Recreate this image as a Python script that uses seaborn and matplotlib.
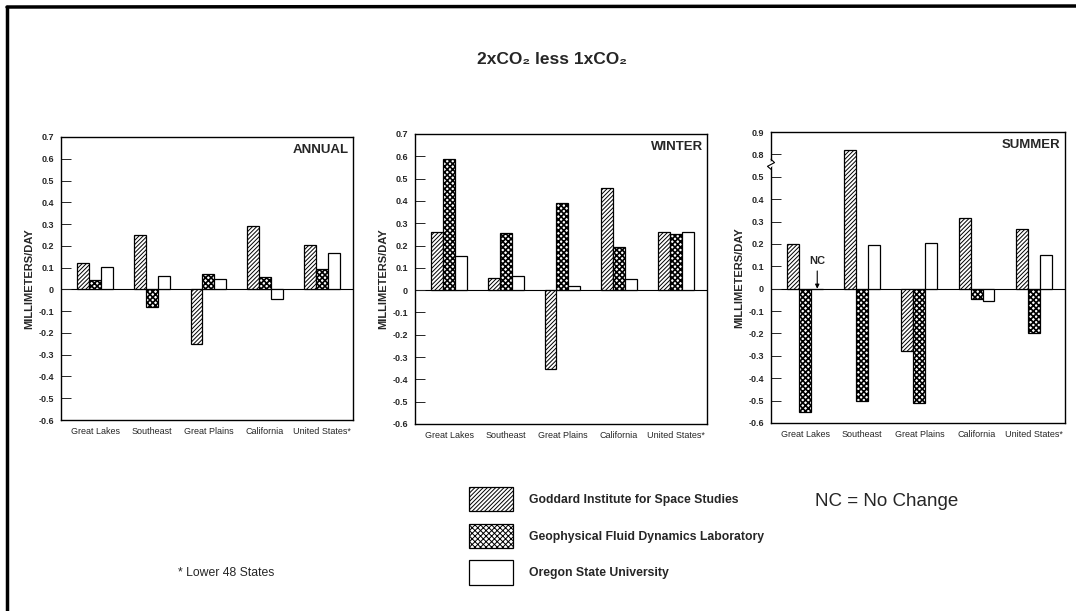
import numpy as np
import pandas as pd
import matplotlib
matplotlib.use("Agg")
from matplotlib import pyplot as plt
from matplotlib.lines import Line2D
import matplotlib.transforms as mtransforms
import seaborn as sns

regions = ['Great Lakes', 'Southeast', 'Great Plains', 'California', 'United States*']
models = ['Goddard Institute for Space Studies',
          'Geophysical Fluid Dynamics Laboratory',
          'Oregon State University']

# mm/day, 2xCO2 less 1xCO2
annual_giss = [0.12, 0.25, -0.25, 0.29, 0.205]
annual_gfdl = [0.045, -0.08, 0.07, 0.055, 0.095]
annual_osu = [0.105, 0.06, 0.05, -0.045, 0.165]

winter_giss = [0.26, 0.055, -0.355, 0.46, 0.26]
winter_gfdl = [0.59, 0.255, 0.39, 0.195, 0.25]
winter_osu = [0.155, 0.065, 0.02, 0.05, 0.26]

summer_giss = [0.20, 0.82, -0.28, 0.315, 0.265]
summer_gfdl = [-0.55, -0.50, -0.51, -0.045, -0.20]
summer_osu = [0.0, 0.195, 0.205, -0.055, 0.15]

sns.set_style('white')
plt.rcParams['font.family'] = ['Liberation Sans', 'DejaVu Sans']
plt.rcParams['hatch.linewidth'] = 0.7


def to_long(giss, gfdl, osu):
    return pd.DataFrame({
        'region': regions * 3,
        'model': [models[0]] * 5 + [models[1]] * 5 + [models[2]] * 5,
        'value': giss + gfdl + osu,
    })


# broken axis for summer panel (0.5 .. 0.8 squeezed)
def brk_fwd(y):
    y = np.asarray(y, dtype=float)
    return np.where(y <= 0.5, y, np.where(y < 0.8, 0.5 + (y - 0.5) / 3, y - 0.2))


def brk_inv(t):
    t = np.asarray(t, dtype=float)
    return np.where(t <= 0.5, t, np.where(t < 0.6, 0.5 + (t - 0.5) * 3, t + 0.2))


fig = plt.figure(figsize=(10.76, 6.11), dpi=100)

W = 1076
H = 611
boxes = [(61, 137, 353, 420), (415, 134, 707, 424), (771, 132, 1065, 423)]
panels = [('ANNUAL', annual_giss, annual_gfdl, annual_osu),
          ('WINTER', winter_giss, winter_gfdl, winter_osu),
          ('SUMMER', summer_giss, summer_gfdl, summer_osu)]
hatches = ['////////', 'xxxxxx', '']

axes = []
for (x0, y0, x1, y1), (name, g, f, o) in zip(boxes, panels):
    ax = fig.add_axes([x0 / W, 1 - y1 / H, (x1 - x0) / W, (y1 - y0) / H])
    df = to_long(g, f, o)
    sns.barplot(data=df, x='region', y='value', hue='model', hue_order=models,
                palette=['white'] * 3, edgecolor='black', linewidth=0.9,
                width=0.63, saturation=1, ax=ax, legend=False)
    for cont, h in zip(ax.containers, hatches):
        for p in cont.patches:
            p.set_hatch(h)
            p.set_facecolor('white')
            if h.startswith('x') and hasattr(p, 'set_hatch_linewidth'):
                p.set_hatch_linewidth(1.2)
    ax.axhline(0, color='black', lw=0.8, zorder=0.5)
    ax.set_xlim(-0.6, 4.55)
    if name == 'SUMMER':
        ax.set_yscale('function', functions=(brk_fwd, brk_inv))
        ax.set_ylim(-0.6, 0.9)
        ticks = [-0.6, -0.5, -0.4, -0.3, -0.2, -0.1, 0, 0.1, 0.2, 0.3, 0.4, 0.5, 0.8, 0.9]
    else:
        ax.set_ylim(-0.6, 0.7)
        ticks = [-0.6, -0.5, -0.4, -0.3, -0.2, -0.1, 0, 0.1, 0.2, 0.3, 0.4, 0.5, 0.6, 0.7]
    ax.set_yticks(ticks)
    ax.set_yticklabels(['0' if t == 0 else f'{t:.1f}' for t in ticks],
                       fontsize=6.5, fontweight='bold')
    ax.yaxis.set_minor_locator(matplotlib.ticker.NullLocator())
    ax.tick_params(axis='y', direction='in', length=7, width=0.7, pad=5, left=True)
    ax.tick_params(axis='x', length=0, pad=5, labelsize=6.5)
    ax.set_xlabel('')
    ax.set_ylabel('MILLIMETERS/DAY', fontsize=8, fontweight='bold', labelpad=3)
    for s in ax.spines.values():
        s.set_color('black')
        s.set_linewidth(1.0)
    ax.text(0.985, 0.975, name, transform=ax.transAxes, ha='right', va='top',
            fontsize=9.5, fontweight='bold')
    axes.append(ax)

# break mark on summer axis
ax = axes[2]
tr = mtransforms.blended_transform_factory(ax.transAxes, ax.transData)
ax.plot([-0.012, 0.012], [0.62, 0.71], transform=tr, color='white', lw=3,
        clip_on=False, zorder=5)
ax.plot([0.0, 0.012, -0.012, 0.0], [0.735, 0.69, 0.64, 0.6], transform=tr,
        color='black', lw=0.8, clip_on=False, zorder=6)

# NC arrow for Great Lakes OSU (no change)
ax.annotate('NC', xy=(0.21, 0.0), xytext=(0.21, 0.1), ha='center', va='bottom',
            fontsize=8, fontweight='bold',
            arrowprops=dict(arrowstyle='-|>', color='black', lw=0.8,
                            mutation_scale=6, shrinkA=1, shrinkB=0))

fig.text(0.513, 1 - 60 / H, '2xCO\u2082 less 1xCO\u2082', ha='center', va='center',
         fontsize=12.5, fontweight='bold')

handles = [axes[0].containers[i].patches[0] for i in range(3)]
fig.legend(handles, models, loc='upper left', bbox_to_anchor=(469 / W, 1 - 487 / H),
           frameon=False, handlelength=3.6, handleheight=2.7,
           labelspacing=1.0, handletextpad=1.3, borderpad=0, borderaxespad=0,
           prop={'weight': 'bold', 'size': 8.8})

fig.text(815 / W, 1 - 502 / H, 'NC = No Change', ha='left', va='center', fontsize=13.5)
fig.text(178 / W, 1 - 573 / H, '* Lower 48 States', ha='left', va='center', fontsize=8.8)

# outer frame (left and top edges)
fig.add_artist(Line2D([7 / W, 7 / W], [0, 1 - 7 / H], transform=fig.transFigure,
                      color='black', lw=2.5))
fig.add_artist(Line2D([7 / W, 1], [1 - 7 / H, 1 - 6 / H], transform=fig.transFigure,
                      color='black', lw=2.5))

fig.savefig('out.png', dpi=100)
